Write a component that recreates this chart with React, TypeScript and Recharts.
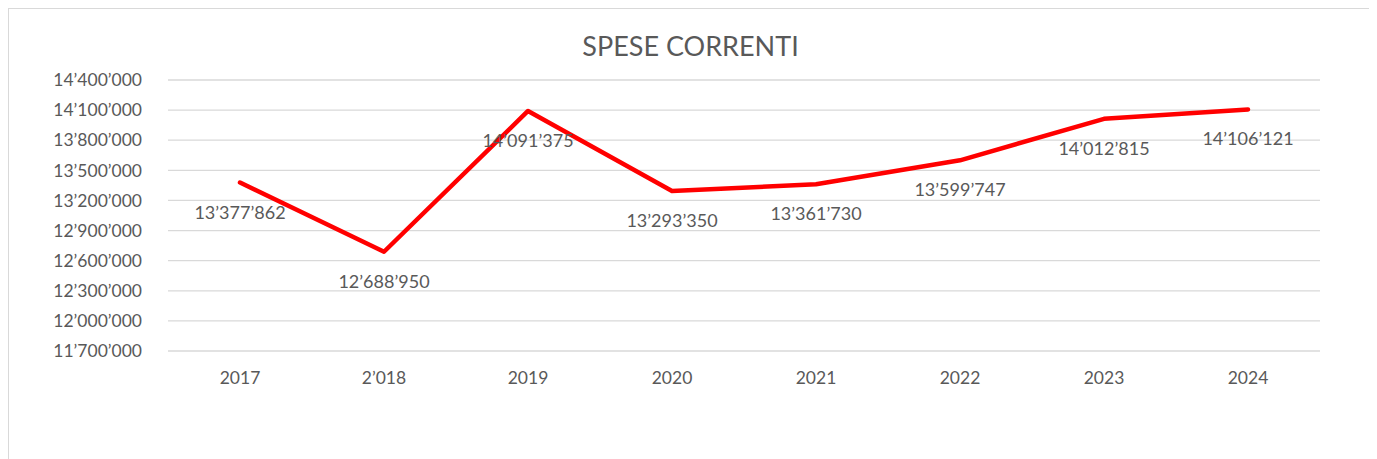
import { CartesianGrid, LabelList, Line, LineChart, XAxis, YAxis } from "recharts";

const years = ["2017", "2’018", "2019", "2020", "2021", "2022", "2023", "2024"];
const spese = [13377862, 12688950, 14091375, 13293350, 13361730, 13599747, 14012815, 14106121];
const yTicks = [11700000, 12000000, 12300000, 12600000, 12900000, 13200000, 13500000, 13800000, 14100000, 14400000];

const data = years.map((year, i) => ({ year, spese: spese[i] }));

const FONT = "Lato, 'Noto Sans', sans-serif";
const TEXT = "#595959";
const AXIS = { fontSize: 17.5, fill: TEXT, fontFamily: FONT };

// swiss-style thousands separator
const fmt = (v: number) => String(Math.round(v)).replace(/\B(?=(\d{3})+(?!\d))/g, "’");

function PointLabel({ x, y, value }: any) {
  return (
    <text x={x} y={y + 29} textAnchor="middle" dominantBaseline="central" fontSize={18} fill={TEXT} fontFamily={FONT}>
      {fmt(Number(value))}
    </text>
  );
}

export default function App() {
  return (
    <div style={{ position: "relative", width: 1363, height: 460, border: "1px solid #d9d9d9", background: "#fff" }}>
      <div
        style={{
          position: "absolute",
          top: 20,
          left: 0,
          width: "100%",
          textAlign: "center",
          fontFamily: FONT,
          fontSize: 27,
          color: TEXT,
        }}
      >
        SPESE CORRENTI
      </div>
      <LineChart width={1363} height={440} data={data} margin={{ top: 71, right: 52, left: 0, bottom: 68 }}>
        <CartesianGrid vertical={false} stroke="#d9d9d9" strokeWidth={1.3} />
        <XAxis
          dataKey="year"
          tick={AXIS}
          tickLine={false}
          axisLine={false}
          tickSize={0}
          tickMargin={21}
          interval={0}
          padding={{ left: 72, right: 72 }}
        />
        <YAxis
          width={159}
          domain={[11700000, 14400000]}
          ticks={yTicks}
          tick={AXIS}
          tickLine={false}
          axisLine={false}
          tickSize={0}
          tickMargin={26}
          tickFormatter={fmt}
        />
        <Line
          type="linear"
          dataKey="spese"
          stroke="#ff0000"
          strokeWidth={4.5}
          strokeLinecap="round"
          strokeLinejoin="round"
          dot={false}
          isAnimationActive={false}
        >
          <LabelList dataKey="spese" content={<PointLabel />} />
        </Line>
      </LineChart>
    </div>
  );
}
